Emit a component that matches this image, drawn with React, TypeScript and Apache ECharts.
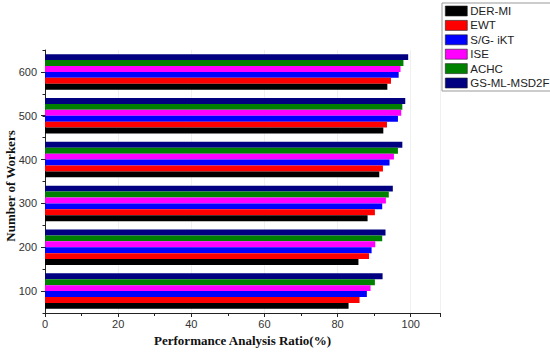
import React, { useEffect, useRef } from "react";
import * as echarts from "echarts";

const categories = ["100", "200", "300", "400", "500", "600"];
const seriesNames = ["DER-MI", "EWT", "S/G- iKT", "ISE", "ACHC", "GS-ML-MSD2F"];
const colors = ["#000000", "#ff0000", "#0000ff", "#ff00ff", "#008000", "#000080"];
const derMi = [83.0, 85.7, 88.2, 91.4, 92.5, 93.6];
const ewt = [86.0, 88.6, 90.2, 92.4, 93.5, 94.6];
const sgIkt = [88.0, 89.3, 92.2, 94.2, 96.5, 96.7];
const ise = [89.0, 90.3, 93.2, 95.4, 97.4, 97.2];
const achc = [90.2, 92.2, 94.0, 96.5, 97.7, 98.0];
const gsMl = [92.3, 93.1, 95.1, 97.7, 98.5, 99.3];
const values = [derMi, ewt, sgIkt, ise, achc, gsMl];
const yAxisTitle = "Number of Workers";
const xAxisTitle = "Performance Analysis Ratio(%)";

export default function App() {
  const ref = useRef<HTMLDivElement>(null);
  useEffect(() => {
    if (!ref.current) return;
    const chart = echarts.init(ref.current, null, { renderer: "svg" });
    const sans = "Liberation Sans, Arial, sans-serif";
    const serif = "Liberation Serif, Times New Roman, serif";
    const series = seriesNames
      .map((name, i) => ({
        name,
        type: "bar",
        yAxisIndex: 0,
        data: values[i],
        barGap: "0%",
        barCategoryGap: "19%",
        itemStyle: { color: colors[i] },
      }))
      .reverse();
    chart.setOption({
      animation: false,
      backgroundColor: "#ffffff",
      grid: { left: 45, right: 110, top: 50, bottom: 41, outerBoundsMode: "none", containLabel: false },
      graphic: [
        {
          type: "text",
          x: 10,
          y: 186,
          rotation: Math.PI / 2,
          style: {
            text: yAxisTitle,
            fontFamily: serif,
            fontWeight: "bold",
            fontSize: 13,
            fill: "#111",
            textAlign: "center",
            textVerticalAlign: "middle",
          },
        },
      ],
      legend: {
        orient: "vertical",
        left: 442,
        top: 3,
        width: 103,
        padding: [2, 4, 2, 3],
        borderColor: "#999",
        borderWidth: 1,
        itemWidth: 22,
        itemHeight: 10,
        itemGap: 2.4,
        icon: "rect",
        itemStyle: { borderColor: "#222", borderWidth: 0.6 },
        textStyle: { fontFamily: sans, fontSize: 11.5, color: "#222", lineHeight: 10, padding: [0, 0, 0, -2] },
        data: seriesNames,
      },
      xAxis: {
        type: "value",
        min: 0,
        max: 108,
        interval: 20,
        name: xAxisTitle,
        nameLocation: "middle",
        nameGap: 21,
        nameTextStyle: { fontFamily: serif, fontWeight: "bold", fontSize: 13, color: "#111" },
        axisLine: { show: true, lineStyle: { color: "#222", width: 1 } },
        axisTick: { show: true, length: 4, lineStyle: { color: "#222" } },
        minorTick: { show: true, splitNumber: 2, length: 3, lineStyle: { color: "#222" } },
        axisLabel: { fontFamily: sans, fontSize: 11, color: "#333", margin: 5, showMaxLabel: false },
        splitLine: { show: true, lineStyle: { color: "#f0f0f0", width: 1 } },
      },
      yAxis: [
        {
          type: "category",
          data: categories,
          axisLine: { show: true, lineStyle: { color: "#222", width: 1 } },
          axisTick: { show: true, alignWithLabel: true, length: 4, lineStyle: { color: "#222" } },
          axisLabel: { fontFamily: sans, fontSize: 11, color: "#333", margin: 8 },
          splitLine: { show: false },
        },
        {
          type: "value",
          position: "left",
          min: 50,
          max: 650,
          interval: 50,
          axisLine: { show: false },
          axisTick: { show: true, length: 2.5, lineStyle: { color: "#222" } },
          axisLabel: { show: false },
          splitLine: { show: false },
        },
      ],
      series,
    });
    return () => chart.dispose();
  }, []);
  return <div ref={ref} style={{ position: "fixed", left: 0, top: 0, width: 550, height: 354 }} />;
}
